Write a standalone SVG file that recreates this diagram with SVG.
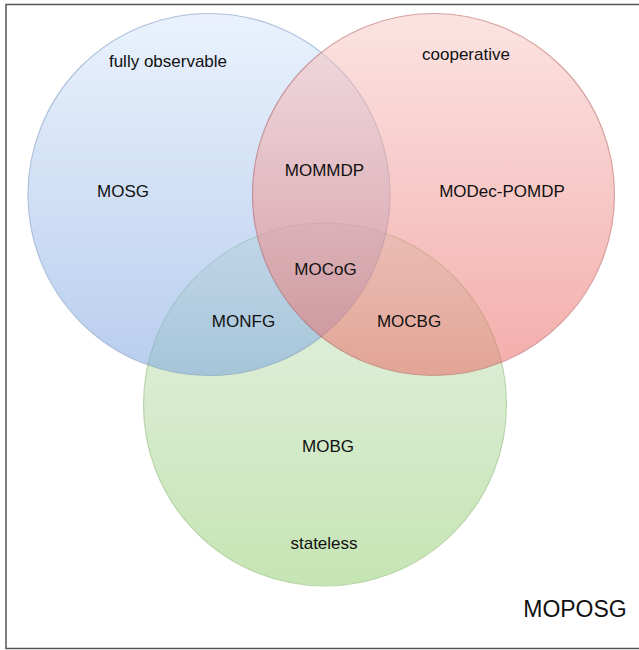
<svg xmlns="http://www.w3.org/2000/svg" width="639" height="650" viewBox="0 0 639 650">
<defs>
<linearGradient id="gBlue" x1="0" y1="0" x2="0" y2="1"><stop offset="0" stop-color="#dae8fc"/><stop offset="1" stop-color="#7ea6e0"/></linearGradient>
<linearGradient id="gRed" x1="0" y1="0" x2="0" y2="1"><stop offset="0" stop-color="#f8cecc"/><stop offset="1" stop-color="#ea6b66"/></linearGradient>
<linearGradient id="gGreen" x1="0" y1="0" x2="0" y2="1"><stop offset="0" stop-color="#d5e8d4"/><stop offset="1" stop-color="#97d077"/></linearGradient>
</defs>
<style>
.set{opacity:0.55;stroke-width:1.2}
text{font-family:"Liberation Sans",Arial,sans-serif;font-size:17px;fill:#111;text-anchor:middle}
</style>
<rect id="frame" x="6" y="4.5" width="640" height="644" fill="#ffffff" stroke="#555555" stroke-width="1.5"/>
<g id="stateless"><circle class="set" cx="325" cy="404.5" r="181.5" fill="url(#gGreen)" stroke="#82b366"/></g>
<g id="fullyObservable"><circle class="set" cx="209" cy="194.5" r="181" fill="url(#gBlue)" stroke="#6c8ebf"/></g>
<g id="cooperative"><circle class="set" cx="433.5" cy="194.5" r="181" fill="url(#gRed)" stroke="#b85450"/></g>
<g id="labels">
<text x="168" y="67">fully observable</text>
<text x="123" y="197">MOSG</text>
<text x="466" y="60">cooperative</text>
<text x="324.5" y="176">MOMMDP</text>
<text x="502" y="197">MODec-POMDP</text>
<text x="325.5" y="275">MOCoG</text>
<text x="243.5" y="327">MONFG</text>
<text x="409" y="327">MOCBG</text>
<text x="328" y="452">MOBG</text>
<text x="324" y="549">stateless</text>
<text x="575" y="617" style="font-size:23px">MOPOSG</text>
</g>
</svg>
